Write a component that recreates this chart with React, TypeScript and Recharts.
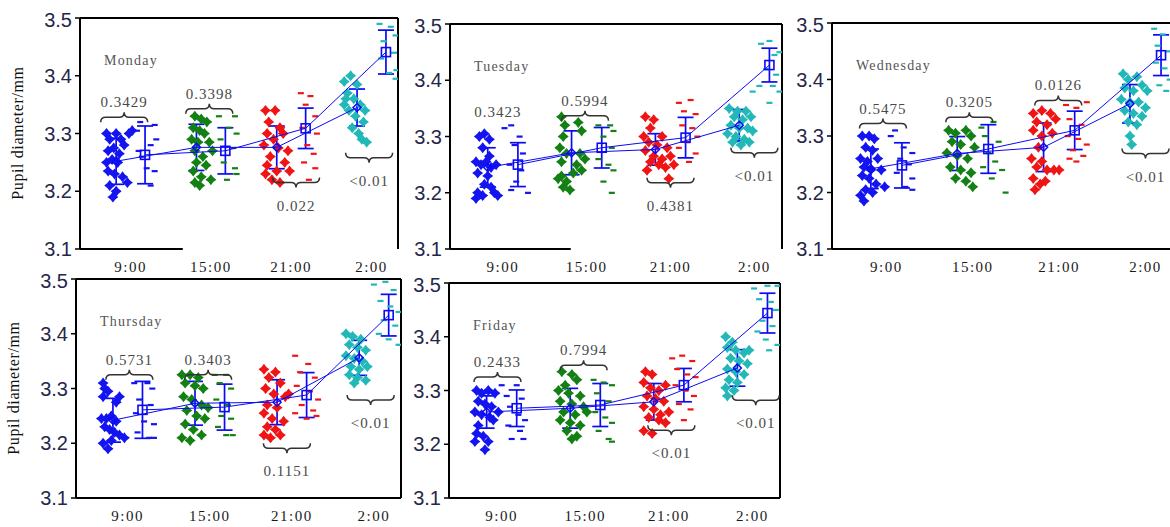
import { ComposedChart, Scatter, XAxis, YAxis, ErrorBar, ReferenceLine } from "recharts";

type Pt = [number, number];
type BraceRow = [number, number, "up" | "down" | "none", string];

const BLUE = "#0a0af5";
const groupColors = ["#1414f0", "#138013", "#f01414", "#22b8b8"];
const timeLabels = ["9:00", "15:00", "21:00", "2:00"];
const timeX = [1, 2, 3, 4];
const yTicks = [3.1, 3.2, 3.3, 3.4, 3.5];
const X_MIN = 0.37;
const X_MAX = 4.33;
const PAIR_OFFSET = 0.18;

// ---------- Monday ----------
const monStars: Pt[][] = [
  [[0.7, 3.3], [0.74, 3.29], [0.82, 3.3], [0.88, 3.29], [0.72, 3.27], [0.79, 3.275], [0.7, 3.25], [0.77, 3.255], [0.84, 3.25], [0.72, 3.235], [0.8, 3.23], [0.9, 3.225], [0.96, 3.215], [0.74, 3.21], [0.82, 3.2], [0.78, 3.19], [0.98, 3.3], [1.02, 3.305], [0.92, 3.28], [0.86, 3.265]],
  [[1.8, 3.33], [1.88, 3.325], [1.95, 3.32], [1.78, 3.31], [1.86, 3.305], [1.92, 3.3], [1.76, 3.29], [1.84, 3.285], [1.98, 3.285], [1.8, 3.27], [1.9, 3.26], [2.02, 3.27], [1.82, 3.25], [1.94, 3.245], [1.78, 3.235], [1.88, 3.225], [2.0, 3.22], [1.8, 3.215], [1.86, 3.21]],
  [[2.68, 3.34], [2.8, 3.34], [2.72, 3.32], [2.86, 3.31], [2.9, 3.3], [2.7, 3.3], [2.78, 3.29], [2.66, 3.28], [2.84, 3.275], [2.74, 3.26], [2.92, 3.25], [2.7, 3.245], [2.82, 3.235], [2.68, 3.23], [2.76, 3.22], [2.86, 3.215], [2.96, 3.27], [2.98, 3.235]],
  [[3.66, 3.39], [3.74, 3.4], [3.82, 3.385], [3.7, 3.37], [3.78, 3.36], [3.66, 3.35], [3.86, 3.35], [3.72, 3.34], [3.8, 3.33], [3.9, 3.32], [3.76, 3.31], [3.84, 3.3], [3.88, 3.29], [3.94, 3.285], [3.68, 3.36], [3.92, 3.34]],
];
const monDashes: Pt[][] = [
  [[1.12, 3.32], [1.3, 3.315], [1.32, 3.29], [1.08, 3.305], [1.25, 3.28], [1.14, 3.26], [1.2, 3.24], [1.3, 3.235], [1.25, 3.21], [1.1, 3.27]],
  [[2.1, 3.33], [2.3, 3.33], [2.22, 3.31], [2.32, 3.3], [2.12, 3.29], [2.28, 3.275], [2.16, 3.25], [2.3, 3.24], [2.2, 3.22], [2.32, 3.23]],
  [[3.12, 3.37], [3.24, 3.365], [3.18, 3.35], [3.3, 3.33], [3.14, 3.31], [3.32, 3.3], [3.2, 3.28], [3.28, 3.265], [3.16, 3.25], [3.3, 3.24], [3.22, 3.22]],
  [[4.1, 3.49], [4.24, 3.485], [4.3, 3.47], [4.15, 3.46], [4.28, 3.44], [4.12, 3.43], [4.31, 3.41], [4.22, 3.405], [4.3, 3.395]],
];
const monDiamondMean = [3.252, 3.276, 3.276, 3.345];
const monDiamondErr = [0.04, 0.04, 0.037, 0.032];
const monSquareMean = [3.263, 3.27, 3.309, 3.441];
const monSquareErr = [0.05, 0.04, 0.035, 0.038];
const monBraces: BraceRow[] = [
  [0.92, 3.328, "up", "0.3429"],
  [1.98, 3.343, "up", "0.3398"],
  [3.06, 3.215, "down", "0.022"],
  [3.97, 3.258, "down", "<0.01"],
];

// ---------- Tuesday ----------
const tueStars: Pt[][] = [
  [[0.72, 3.3], [0.78, 3.305], [0.84, 3.295], [0.76, 3.28], [0.68, 3.255], [0.74, 3.25], [0.8, 3.255], [0.86, 3.245], [0.92, 3.25], [0.7, 3.235], [0.82, 3.23], [0.78, 3.215], [0.86, 3.21], [0.7, 3.2], [0.76, 3.195], [0.9, 3.2], [0.68, 3.19], [0.94, 3.195], [0.84, 3.265]],
  [[1.7, 3.335], [1.74, 3.32], [1.72, 3.3], [1.9, 3.325], [1.94, 3.31], [1.68, 3.28], [1.76, 3.27], [1.7, 3.255], [1.92, 3.27], [1.98, 3.26], [1.88, 3.25], [1.94, 3.24], [1.84, 3.235], [1.7, 3.23], [1.76, 3.22], [1.72, 3.21], [1.8, 3.205], [1.66, 3.225]],
  [[2.7, 3.335], [2.8, 3.33], [2.76, 3.315], [2.68, 3.3], [2.9, 3.3], [2.74, 3.29], [2.84, 3.285], [2.96, 3.28], [2.7, 3.275], [2.8, 3.265], [2.9, 3.26], [3.0, 3.265], [2.76, 3.255], [2.86, 3.25], [2.94, 3.245], [2.72, 3.24], [3.04, 3.25], [2.98, 3.225]],
  [[3.7, 3.35], [3.8, 3.345], [3.9, 3.345], [3.76, 3.335], [3.86, 3.33], [3.96, 3.335], [3.72, 3.32], [3.82, 3.315], [3.92, 3.315], [3.68, 3.305], [3.78, 3.3], [3.88, 3.295], [3.98, 3.31], [3.74, 3.29], [3.84, 3.285], [3.94, 3.29]],
];
const tueDashes: Pt[][] = [
  [[1.02, 3.315], [1.1, 3.32], [1.2, 3.3], [1.14, 3.285], [1.24, 3.27], [1.08, 3.25], [1.22, 3.24], [1.16, 3.22], [1.3, 3.2], [1.1, 3.205]],
  [[2.14, 3.32], [2.28, 3.32], [2.32, 3.31], [2.2, 3.3], [2.3, 3.28], [2.14, 3.26], [2.26, 3.25], [2.32, 3.24], [2.2, 3.22], [2.3, 3.2]],
  [[3.1, 3.36], [3.24, 3.365], [3.16, 3.345], [3.3, 3.34], [3.14, 3.32], [3.26, 3.315], [3.32, 3.3], [3.2, 3.29], [3.1, 3.28], [3.3, 3.27], [3.22, 3.255]],
  [[3.98, 3.38], [4.06, 3.39], [4.08, 3.465], [4.18, 3.47], [4.24, 3.445], [4.3, 3.45], [4.14, 3.42], [4.26, 3.41], [4.22, 3.39], [4.3, 3.38], [4.18, 3.36]],
];
const tueDiamondMean = [3.245, 3.271, 3.277, 3.32];
const tueDiamondErr = [0.035, 0.039, 0.028, 0.028];
const tueSquareMean = [3.25, 3.28, 3.298, 3.427];
const tueSquareErr = [0.039, 0.036, 0.036, 0.03];
const tueBraces: BraceRow[] = [
  [0.94, 3.343, "none", "0.3423"],
  [1.98, 3.337, "up", "0.5994"],
  [3.0, 3.218, "down", "0.4381"],
  [4.0, 3.271, "down", "<0.01"],
];

// ---------- Wednesday ----------
const wedStars: Pt[][] = [
  [[0.72, 3.3], [0.8, 3.3], [0.86, 3.295], [0.76, 3.28], [0.84, 3.275], [0.7, 3.26], [0.78, 3.255], [0.9, 3.26], [0.74, 3.245], [0.82, 3.24], [0.94, 3.24], [0.72, 3.23], [0.8, 3.225], [0.88, 3.215], [0.76, 3.205], [0.84, 3.2], [0.7, 3.195], [0.74, 3.185], [0.98, 3.21]],
  [[1.72, 3.31], [1.8, 3.305], [1.92, 3.31], [1.98, 3.3], [1.76, 3.29], [1.86, 3.285], [2.02, 3.28], [1.7, 3.27], [1.82, 3.265], [1.94, 3.26], [1.74, 3.245], [1.86, 3.24], [1.98, 3.235], [1.8, 3.225], [1.92, 3.22], [2.0, 3.21]],
  [[2.7, 3.34], [2.8, 3.345], [2.9, 3.34], [2.74, 3.325], [2.86, 3.32], [2.96, 3.33], [2.7, 3.31], [2.8, 3.3], [2.92, 3.305], [2.76, 3.28], [2.68, 3.26], [2.8, 3.255], [2.74, 3.245], [2.86, 3.24], [2.94, 3.24], [3.0, 3.24], [2.7, 3.225], [2.78, 3.215], [2.72, 3.205], [2.84, 3.22]],
  [[3.74, 3.41], [3.8, 3.4], [3.9, 3.405], [3.76, 3.385], [3.86, 3.38], [3.96, 3.39], [4.02, 3.38], [3.72, 3.365], [3.82, 3.36], [3.92, 3.36], [4.0, 3.35], [3.76, 3.345], [3.86, 3.34], [3.96, 3.335], [3.8, 3.325], [3.9, 3.32], [3.82, 3.3], [3.84, 3.285]],
];
const wedDashes: Pt[][] = [
  [[1.1, 3.31], [1.05, 3.3], [1.2, 3.28], [1.3, 3.27], [1.16, 3.26], [1.26, 3.25], [1.12, 3.235], [1.3, 3.225], [1.22, 3.21], [1.3, 3.205]],
  [[2.1, 3.315], [2.24, 3.325], [2.14, 3.3], [2.3, 3.29], [2.18, 3.27], [2.26, 3.255], [2.12, 3.245], [2.34, 3.24], [2.22, 3.225], [2.38, 3.2]],
  [[3.08, 3.355], [3.2, 3.35], [3.32, 3.36], [3.12, 3.33], [3.26, 3.32], [3.1, 3.3], [3.22, 3.295], [3.32, 3.285], [3.16, 3.275], [3.28, 3.265], [3.2, 3.255], [3.12, 3.26]],
  [[4.1, 3.49], [4.2, 3.48], [4.14, 3.46], [4.26, 3.45], [4.12, 3.43], [4.22, 3.42], [4.28, 3.4], [4.16, 3.39], [4.24, 3.38]],
];
const wedDiamondMean = [3.242, 3.269, 3.28, 3.357];
const wedDiamondErr = [0.035, 0.03, 0.043, 0.034];
const wedSquareMean = [3.248, 3.277, 3.31, 3.443];
const wedSquareErr = [0.04, 0.043, 0.034, 0.036];
const wedBraces: BraceRow[] = [
  [0.96, 3.322, "up", "0.5475"],
  [1.96, 3.333, "up", "0.3205"],
  [2.99, 3.363, "up", "0.0126"],
  [4.0, 3.269, "down", "<0.01"],
];

// ---------- Thursday ----------
const thuStars: Pt[][] = [
  [[0.7, 3.31], [0.72, 3.3], [0.76, 3.295], [0.7, 3.285], [0.9, 3.285], [0.86, 3.275], [0.68, 3.245], [0.74, 3.245], [0.8, 3.25], [0.86, 3.24], [0.72, 3.23], [0.78, 3.225], [0.9, 3.215], [0.96, 3.21], [0.7, 3.2], [0.8, 3.205], [0.76, 3.19], [0.84, 3.22]],
  [[1.66, 3.325], [1.76, 3.325], [1.86, 3.32], [1.7, 3.31], [1.82, 3.305], [1.92, 3.3], [1.68, 3.285], [1.78, 3.28], [1.9, 3.27], [1.98, 3.265], [1.72, 3.26], [1.84, 3.25], [1.94, 3.245], [1.7, 3.235], [1.8, 3.225], [1.66, 3.21], [1.76, 3.205], [1.9, 3.215]],
  [[2.66, 3.335], [2.8, 3.33], [2.72, 3.32], [2.86, 3.31], [2.68, 3.3], [2.78, 3.29], [2.92, 3.285], [2.7, 3.27], [2.82, 3.265], [2.66, 3.255], [2.76, 3.245], [2.9, 3.24], [2.7, 3.23], [2.8, 3.225], [2.66, 3.215], [2.74, 3.21], [2.86, 3.215], [2.96, 3.29]],
  [[3.66, 3.4], [3.74, 3.395], [3.84, 3.39], [3.7, 3.38], [3.8, 3.375], [3.9, 3.37], [3.66, 3.36], [3.76, 3.355], [3.86, 3.35], [3.72, 3.34], [3.82, 3.335], [3.92, 3.34], [3.7, 3.325], [3.8, 3.32], [3.9, 3.315], [3.76, 3.31]],
];
const thuDashes: Pt[][] = [
  [[1.08, 3.31], [1.24, 3.31], [1.3, 3.3], [1.14, 3.28], [1.28, 3.27], [1.1, 3.255], [1.2, 3.24], [1.32, 3.235], [1.12, 3.22], [1.26, 3.21], [1.32, 3.21]],
  [[2.06, 3.325], [2.2, 3.325], [2.12, 3.31], [2.26, 3.3], [2.08, 3.28], [2.22, 3.27], [2.14, 3.25], [2.26, 3.245], [2.1, 3.23], [2.2, 3.215], [2.28, 3.215]],
  [[3.04, 3.36], [3.2, 3.345], [3.1, 3.33], [3.28, 3.32], [3.06, 3.305], [3.22, 3.295], [3.32, 3.28], [3.12, 3.27], [3.26, 3.26], [3.04, 3.255], [3.18, 3.245], [3.3, 3.25]],
  [[4.0, 3.49], [4.14, 3.495], [4.24, 3.48], [4.08, 3.46], [4.2, 3.45], [4.3, 3.44], [4.12, 3.425], [4.26, 3.415], [4.06, 3.4], [4.18, 3.39], [4.3, 3.38]],
];
const thuDiamondMean = [3.242, 3.273, 3.275, 3.356];
const thuDiamondErr = [0.04, 0.04, 0.041, 0.032];
const thuSquareMean = [3.261, 3.266, 3.288, 3.434];
const thuSquareErr = [0.052, 0.042, 0.041, 0.038];
const thuBraces: BraceRow[] = [
  [1.02, 3.325, "up", "0.5731"],
  [1.98, 3.325, "up", "0.3403"],
  [2.94, 3.191, "down", "0.1151"],
  [3.96, 3.279, "down", "<0.01"],
];

// ---------- Friday ----------
const friStars: Pt[][] = [
  [[0.7, 3.3], [0.76, 3.295], [0.84, 3.3], [0.92, 3.295], [0.72, 3.28], [0.8, 3.275], [0.88, 3.27], [0.68, 3.26], [0.76, 3.255], [0.86, 3.25], [0.96, 3.26], [0.72, 3.235], [0.7, 3.22], [0.78, 3.215], [0.68, 3.205], [0.84, 3.205], [0.8, 3.19], [0.9, 3.245]],
  [[1.72, 3.335], [1.84, 3.33], [1.9, 3.32], [1.76, 3.31], [1.68, 3.3], [1.8, 3.295], [1.94, 3.29], [1.7, 3.28], [1.84, 3.275], [1.98, 3.27], [1.74, 3.26], [1.88, 3.255], [2.02, 3.26], [1.7, 3.245], [1.82, 3.24], [1.94, 3.235], [1.78, 3.225], [1.9, 3.215], [1.84, 3.21]],
  [[2.72, 3.335], [2.8, 3.33], [2.7, 3.315], [2.78, 3.305], [2.88, 3.3], [2.96, 3.31], [2.74, 3.29], [2.84, 3.285], [2.94, 3.28], [2.7, 3.27], [2.82, 3.265], [2.9, 3.255], [3.0, 3.26], [2.76, 3.25], [2.88, 3.245], [2.96, 3.24], [2.7, 3.225], [2.8, 3.22]],
  [[3.68, 3.4], [3.76, 3.39], [3.7, 3.38], [3.8, 3.375], [3.9, 3.37], [3.74, 3.36], [3.84, 3.355], [3.94, 3.35], [3.7, 3.34], [3.8, 3.335], [3.9, 3.33], [3.72, 3.32], [3.82, 3.315], [3.68, 3.305], [3.78, 3.3], [3.7, 3.29], [3.96, 3.375]],
];
const friDashes: Pt[][] = [
  [[1.0, 3.31], [1.18, 3.31], [1.06, 3.29], [1.24, 3.285], [1.1, 3.27], [1.2, 3.255], [1.28, 3.245], [1.08, 3.235], [1.22, 3.225], [1.12, 3.21], [1.26, 3.21]],
  [[2.1, 3.32], [2.22, 3.315], [2.32, 3.31], [2.14, 3.295], [2.28, 3.28], [2.12, 3.26], [2.24, 3.25], [2.32, 3.24], [2.16, 3.225], [2.28, 3.21], [2.32, 3.205]],
  [[3.04, 3.36], [3.16, 3.365], [3.28, 3.355], [3.1, 3.34], [3.22, 3.33], [3.32, 3.325], [3.08, 3.31], [3.2, 3.3], [3.3, 3.29], [3.12, 3.275], [3.26, 3.265], [3.18, 3.245]],
  [[4.02, 3.49], [4.18, 3.495], [4.3, 3.495], [4.08, 3.47], [4.22, 3.465], [4.28, 3.45], [4.12, 3.43], [4.24, 3.42], [4.06, 3.41], [4.16, 3.395], [4.3, 3.385], [4.2, 3.375]],
];
const friDiamondMean = [3.26, 3.267, 3.279, 3.342];
const friDiamondErr = [0.03, 0.037, 0.034, 0.034];
const friSquareMean = [3.267, 3.273, 3.31, 3.444];
const friSquareErr = [0.034, 0.04, 0.031, 0.037];
const friBraces: BraceRow[] = [
  [0.95, 3.325, "up", "0.2433"],
  [1.98, 3.347, "up", "0.7994"],
  [3.03, 3.226, "down", "<0.01"],
  [4.04, 3.282, "down", "<0.01"],
];

// chart margins around each plot area
const ML = 80;
const MT = 10;
const MR = 10;
const XH = 40;

const StarMark = (p: any) => {
  const { cx, cy, fill } = p;
  if (cx == null || cy == null) return null;
  const r = 5.5;
  const k = 2.4;
  const d = `M${cx},${cy - r} L${cx + k},${cy - k} L${cx + r},${cy} L${cx + k},${cy + k} L${cx},${cy + r} L${cx - k},${cy + k} L${cx - r},${cy} L${cx - k},${cy - k} Z`;
  return <path d={d} fill={fill} />;
};

const DashMark = (p: any) => {
  const { cx, cy, fill } = p;
  if (cx == null || cy == null) return null;
  return <rect x={cx - 3} y={cy - 1} width={6} height={2.2} fill={fill} />;
};

const DiamondMark = (p: any) => {
  const { cx, cy } = p;
  if (cx == null || cy == null) return null;
  const r = 4;
  return (
    <path
      d={`M${cx},${cy - r} L${cx + r},${cy} L${cx},${cy + r} L${cx - r},${cy} Z`}
      fill="none"
      stroke={BLUE}
      strokeWidth={1.5}
    />
  );
};

const SquareMark = (p: any) => {
  const { cx, cy } = p;
  if (cx == null || cy == null) return null;
  return <rect x={cx - 4.5} y={cy - 4.5} width={9} height={9} fill="none" stroke={BLUE} strokeWidth={1.6} />;
};

const BraceMark = (p: any) => {
  const { cx, cy } = p;
  const row = p.payload ?? p;
  if (cx == null || cy == null) return null;
  const w = 23.5;
  const h = 5;
  const textStyle = { fontFamily: "Liberation Serif, serif", fontSize: 15, fill: "#4a4a4a", letterSpacing: 1 };
  if (row.dir === "none") {
    return (
      <text x={cx} y={cy + 5} textAnchor="middle" style={textStyle}>
        {row.text}
      </text>
    );
  }
  const s = row.dir === "up" ? -1 : 1;
  const d = `M${cx - w},${cy - s * h} Q${cx - w},${cy} ${cx - w + 5},${cy} L${cx - 5},${cy} Q${cx},${cy} ${cx},${cy + s * h} Q${cx},${cy} ${cx + 5},${cy} L${cx + w - 5},${cy} Q${cx + w},${cy} ${cx + w},${cy - s * h}`;
  const ty = row.dir === "up" ? cy - h - 5 : cy + 28;
  return (
    <g>
      <path d={d} fill="none" stroke="#333" strokeWidth={1.5} />
      <text x={cx} y={ty} textAnchor="middle" style={textStyle}>
        {row.text}
      </text>
    </g>
  );
};

type PanelProps = {
  day: string;
  left: number;
  top: number;
  w: number;
  h: number;
  stars: Pt[][];
  dashes: Pt[][];
  dMean: number[];
  dErr: number[];
  sMean: number[];
  sErr: number[];
  braces: BraceRow[];
  bottomEnd: number;
  title?: boolean;
};

const Panel = ({ day, left, top, w, h, stars, dashes, dMean, dErr, sMean, sErr, braces, bottomEnd, title }: PanelProps) => {
  const diamondData = timeX.map((t, i) => ({ x: t - PAIR_OFFSET, y: dMean[i], err: dErr[i] }));
  const squareData = timeX.map((t, i) => ({ x: t + PAIR_OFFSET, y: sMean[i], err: sErr[i] }));
  const braceData = braces.map(([x, y, dir, text]) => ({ x, y, dir, text }));

  return (
    <>
      <div style={{ position: "absolute", left: left - ML, top: top - MT }}>
        <ComposedChart
          width={ML + w + MR}
          height={MT + h + XH}
          margin={{ top: MT, right: MR, left: 0, bottom: 0 }}
        >
          <XAxis
            type="number"
            dataKey="x"
            domain={[X_MIN, X_MAX]}
            ticks={timeX}
            allowDataOverflow
            tickFormatter={(v: number) => timeLabels[timeX.indexOf(v)]}
            axisLine={false}
            tickLine={false}
            tickSize={0}
            tickMargin={12}
            height={XH}
            tick={{ fontFamily: "Liberation Serif, serif", fontSize: 15, fill: "#1a1a1a", letterSpacing: 1.5 }}
          />
          <YAxis
            type="number"
            dataKey="y"
            domain={[3.1, 3.5]}
            ticks={yTicks}
            allowDataOverflow
            width={ML}
            tickFormatter={(v: number) => v.toFixed(1)}
            axisLine={{ stroke: "#000", strokeWidth: 2 }}
            tickLine={{ stroke: "#000", strokeWidth: 1.5 }}
            tickSize={5}
            tickMargin={3}
            tick={{ fontFamily: "Liberation Sans, sans-serif", fontSize: 20, fill: "#26264a" }}
          />
          <ReferenceLine y={3.5} stroke="#000" strokeWidth={2} />
          <ReferenceLine x={X_MAX} stroke="#000" strokeWidth={2} />
          <ReferenceLine
            segment={[
              { x: X_MIN, y: 3.1 },
              { x: bottomEnd, y: 3.1 },
            ]}
            stroke="#000"
            strokeWidth={2}
          />
          {stars.map((pts, g) => (
            <Scatter
              key={`s${g}`}
              data={pts.map(([x, y]) => ({ x, y }))}
              fill={groupColors[g]}
              shape={StarMark}
              isAnimationActive={false}
            />
          ))}
          {dashes.map((pts, g) => (
            <Scatter
              key={`d${g}`}
              data={pts.map(([x, y]) => ({ x, y }))}
              fill={groupColors[g]}
              shape={DashMark}
              isAnimationActive={false}
            />
          ))}
          <Scatter
            data={diamondData}
            line={{ stroke: BLUE, strokeWidth: 1 }}
            shape={DiamondMark}
            isAnimationActive={false}
          >
            <ErrorBar dataKey="err" direction="y" width={8} stroke={BLUE} strokeWidth={1.7} />
          </Scatter>
          <Scatter
            data={squareData}
            line={{ stroke: BLUE, strokeWidth: 1 }}
            shape={SquareMark}
            isAnimationActive={false}
          >
            <ErrorBar dataKey="err" direction="y" width={8} stroke={BLUE} strokeWidth={1.7} />
          </Scatter>
          <Scatter data={braceData} shape={BraceMark} isAnimationActive={false} />
        </ComposedChart>
      </div>
      <div
        style={{
          position: "absolute",
          left: left + 24,
          top: top + 35,
          fontFamily: "Liberation Serif, serif",
          fontSize: 14,
          letterSpacing: 1.2,
          color: "#555",
          whiteSpace: "nowrap",
        }}
      >
        {day}
      </div>
      {title && (
        <div
          style={{
            position: "absolute",
            left: left - 62 - 70,
            top: top + h / 2 - 10,
            width: 140,
            textAlign: "center",
            transform: "rotate(-90deg)",
            fontFamily: "Liberation Serif, serif",
            fontSize: 16,
            letterSpacing: 0.6,
            color: "#111",
            whiteSpace: "nowrap",
          }}
        >
          Pupil diameter/mm
        </div>
      )}
    </>
  );
};

export default function App() {
  return (
    <div
      style={{
        position: "fixed",
        left: 0,
        top: 0,
        width: 1170,
        height: 527,
        overflow: "hidden",
        background: "#fff",
      }}
    >
      <Panel day="Monday" left={80} top={18} w={318} h={231} stars={monStars} dashes={monDashes}
        dMean={monDiamondMean} dErr={monDiamondErr} sMean={monSquareMean} sErr={monSquareErr}
        braces={monBraces} bottomEnd={1.65} title />
      <Panel day="Tuesday" left={450} top={24} w={332} h={225} stars={tueStars} dashes={tueDashes}
        dMean={tueDiamondMean} dErr={tueDiamondErr} sMean={tueSquareMean} sErr={tueSquareErr}
        braces={tueBraces} bottomEnd={1.81} />
      <Panel day="Wednesday" left={832} top={23} w={342} h={226} stars={wedStars} dashes={wedDashes}
        dMean={wedDiamondMean} dErr={wedDiamondErr} sMean={wedSquareMean} sErr={wedSquareErr}
        braces={wedBraces} bottomEnd={X_MAX} />
      <Panel day="Thursday" left={76} top={279} w={325} h={219} stars={thuStars} dashes={thuDashes}
        dMean={thuDiamondMean} dErr={thuDiamondErr} sMean={thuSquareMean} sErr={thuSquareErr}
        braces={thuBraces} bottomEnd={X_MAX} title />
      <Panel day="Friday" left={449} top={283} w={331} h={215} stars={friStars} dashes={friDashes}
        dMean={friDiamondMean} dErr={friDiamondErr} sMean={friSquareMean} sErr={friSquareErr}
        braces={friBraces} bottomEnd={X_MAX} />
    </div>
  );
}
